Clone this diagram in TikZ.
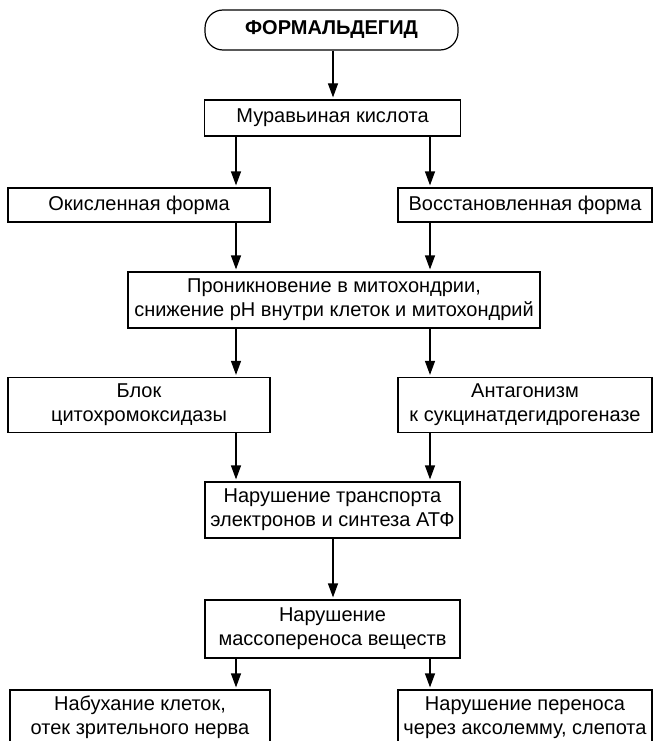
\documentclass[tikz,border=0pt]{standalone}
\usepackage{fontspec}
\setmainfont{Liberation Sans}
\usetikzlibrary{arrows.meta,calc}
\begin{document}
\begin{tikzpicture}[x=1pt,y=-1pt,
  box/.style={draw,line width=1.2pt,inner sep=0pt,align=center,font=\fontsize{20}{24}\selectfont},
  pill/.style={box,rounded corners=18pt,font=\fontsize{20}{24}\selectfont\bfseries},
  arr/.style={line width=1.2pt,-{Triangle[length=14pt,width=10pt]},shorten >=2pt}]
\useasboundingbox (0,0) rectangle (653,741);
\clip (0,0) rectangle (653,741);
\coordinate (xl) at (236,0);
\coordinate (xr) at (430,0);
\coordinate (xm) at (333,0);
\node[pill,minimum width=253pt,minimum height=40pt] (form) at (331.5,30) {ФОРМАЛЬДЕГИД};
\node[box,minimum width=256pt,minimum height=36pt] (mur) at (332.5,118) {Муравьиная кислота};
\node[box,minimum width=262pt,minimum height=34pt] (ok) at (139,205) {Окисленная форма};
\node[box,minimum width=254pt,minimum height=34pt] (vos) at (525,205) {Восстановленная форма};
\node[box,minimum width=412pt,minimum height=56pt] (pron) at (334,300) {Проникновение в митохондрии,\\снижение pH внутри клеток и митохондрий};
\node[box,minimum width=262pt,minimum height=55pt] (blok) at (139,405) {Блок\\цитохромоксидазы};
\node[box,minimum width=254pt,minimum height=55pt] (ant) at (525,405) {Антагонизм\\к сукцинатдегидрогеназе};
\node[box,minimum width=255pt,minimum height=56pt] (trans) at (332.5,510) {Нарушение транспорта\\электронов и синтеза АТФ};
\node[box,minimum width=255pt,minimum height=58pt] (mass) at (332.5,629) {Нарушение\\массопереноса веществ};
\node[box,minimum width=260pt,minimum height=55pt] (nab) at (140,717.5) {Набухание клеток,\\отек зрительного нерва};
\node[box,minimum width=254pt,minimum height=55pt] (nar) at (525,717.5) {Нарушение переноса\\через аксолемму, слепота};
\draw[arr] (form.south -| xm) -- (mur.north -| xm);
\draw[arr] (mur.south -| xl) -- (ok.north -| xl);
\draw[arr] (mur.south -| xr) -- (vos.north -| xr);
\draw[arr] (ok.south -| xl) -- (pron.north -| xl);
\draw[arr] (vos.south -| xr) -- (pron.north -| xr);
\draw[arr] (pron.south -| xl) -- (blok.north -| xl);
\draw[arr] (pron.south -| xr) -- (ant.north -| xr);
\draw[arr] (blok.south -| xl) -- (trans.north -| xl);
\draw[arr] (ant.south -| xr) -- (trans.north -| xr);
\draw[arr] (trans.south -| xm) -- (mass.north -| xm);
\draw[arr] (mass.south -| xl) -- (nab.north -| xl);
\draw[arr] (mass.south -| xr) -- (nar.north -| xr);
\end{tikzpicture}
\end{document}
